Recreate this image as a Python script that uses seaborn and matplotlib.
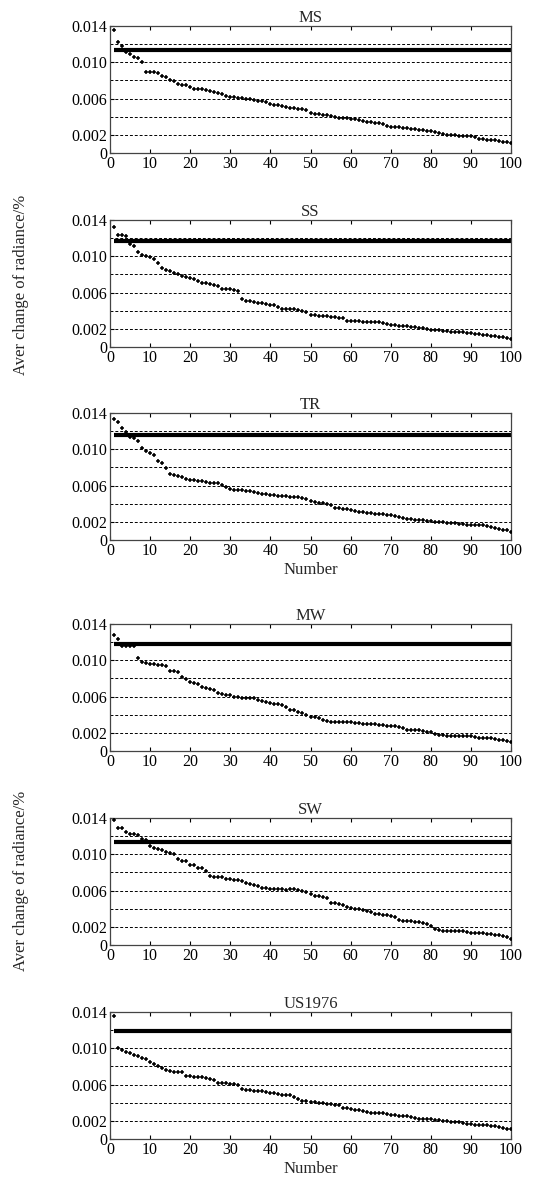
import numpy as np
import pandas as pd
import matplotlib
matplotlib.use("Agg")
import matplotlib.pyplot as plt
import seaborn as sns

number = list(range(1, 101))

ms = [0.01356, 0.01229, 0.01181, 0.01112, 0.01094, 0.01057, 0.01046, 0.00999, 0.00890, 0.00890,
      0.00890, 0.00882, 0.00853, 0.00835, 0.00809, 0.00791, 0.00766, 0.00755, 0.00747, 0.00729,
      0.00711, 0.00707, 0.00700, 0.00689, 0.00682, 0.00675, 0.00656, 0.00649, 0.00627, 0.00620,
      0.00613, 0.00609, 0.00605, 0.00598, 0.00591, 0.00580, 0.00572, 0.00569, 0.00561, 0.00540,
      0.00532, 0.00525, 0.00518, 0.00510, 0.00496, 0.00492, 0.00485, 0.00481, 0.00478, 0.00438,
      0.00430, 0.00427, 0.00423, 0.00416, 0.00405, 0.00397, 0.00390, 0.00387, 0.00383, 0.00379,
      0.00376, 0.00368, 0.00357, 0.00343, 0.00339, 0.00335, 0.00332, 0.00317, 0.00295, 0.00292,
      0.00288, 0.00284, 0.00281, 0.00277, 0.00270, 0.00263, 0.00259, 0.00252, 0.00244, 0.00241,
      0.00237, 0.00222, 0.00204, 0.00197, 0.00193, 0.00193, 0.00190, 0.00190, 0.00190, 0.00186,
      0.00175, 0.00157, 0.00149, 0.00146, 0.00142, 0.00139, 0.00135, 0.00124, 0.00117, 0.00113]

ss = [0.01323, 0.01238, 0.01230, 0.01223, 0.01138, 0.01109, 0.01046, 0.01009, 0.00998, 0.00991,
      0.00973, 0.00925, 0.00869, 0.00844, 0.00840, 0.00818, 0.00803, 0.00781, 0.00770, 0.00766,
      0.00752, 0.00733, 0.00704, 0.00700, 0.00693, 0.00678, 0.00667, 0.00641, 0.00634, 0.00634,
      0.00630, 0.00612, 0.00527, 0.00508, 0.00505, 0.00494, 0.00486, 0.00483, 0.00475, 0.00468,
      0.00461, 0.00446, 0.00424, 0.00420, 0.00416, 0.00416, 0.00413, 0.00398, 0.00383, 0.00357,
      0.00354, 0.00346, 0.00343, 0.00339, 0.00335, 0.00332, 0.00324, 0.00321, 0.00291, 0.00287,
      0.00284, 0.00284, 0.00280, 0.00280, 0.00276, 0.00276, 0.00273, 0.00265, 0.00251, 0.00247,
      0.00240, 0.00236, 0.00232, 0.00228, 0.00225, 0.00221, 0.00214, 0.00206, 0.00199, 0.00192,
      0.00188, 0.00184, 0.00181, 0.00173, 0.00169, 0.00166, 0.00162, 0.00162, 0.00158, 0.00155,
      0.00147, 0.00140, 0.00133, 0.00129, 0.00125, 0.00118, 0.00114, 0.00111, 0.00096, 0.00088]

tr = [0.01330, 0.01305, 0.01239, 0.01188, 0.01140, 0.01122, 0.01093, 0.01012, 0.00976, 0.00958,
      0.00932, 0.00874, 0.00848, 0.00793, 0.00731, 0.00713, 0.00702, 0.00691, 0.00676, 0.00665,
      0.00662, 0.00654, 0.00651, 0.00640, 0.00629, 0.00625, 0.00625, 0.00610, 0.00588, 0.00567,
      0.00556, 0.00552, 0.00548, 0.00545, 0.00537, 0.00530, 0.00519, 0.00508, 0.00504, 0.00501,
      0.00497, 0.00490, 0.00486, 0.00482, 0.00479, 0.00475, 0.00472, 0.00464, 0.00457, 0.00435,
      0.00417, 0.00409, 0.00406, 0.00402, 0.00384, 0.00355, 0.00351, 0.00347, 0.00347, 0.00333,
      0.00318, 0.00311, 0.00307, 0.00296, 0.00296, 0.00292, 0.00292, 0.00289, 0.00281, 0.00274,
      0.00260, 0.00249, 0.00245, 0.00234, 0.00227, 0.00223, 0.00219, 0.00216, 0.00208, 0.00205,
      0.00201, 0.00201, 0.00197, 0.00190, 0.00186, 0.00183, 0.00179, 0.00172, 0.00168, 0.00164,
      0.00161, 0.00161, 0.00161, 0.00154, 0.00139, 0.00128, 0.00117, 0.00110, 0.00106, 0.00088]

mw = [0.01282, 0.01234, 0.01160, 0.01160, 0.01160, 0.01153, 0.01020, 0.00986, 0.00972, 0.00960,
      0.00957, 0.00953, 0.00949, 0.00938, 0.00883, 0.00879, 0.00872, 0.00820, 0.00791, 0.00761,
      0.00746, 0.00739, 0.00709, 0.00698, 0.00687, 0.00676, 0.00643, 0.00628, 0.00621, 0.00621,
      0.00598, 0.00591, 0.00587, 0.00587, 0.00584, 0.00580, 0.00558, 0.00550, 0.00543, 0.00528,
      0.00521, 0.00513, 0.00502, 0.00488, 0.00451, 0.00451, 0.00429, 0.00414, 0.00392, 0.00377,
      0.00373, 0.00369, 0.00347, 0.00329, 0.00325, 0.00325, 0.00321, 0.00321, 0.00318, 0.00318,
      0.00310, 0.00307, 0.00303, 0.00303, 0.00299, 0.00296, 0.00288, 0.00284, 0.00281, 0.00277,
      0.00273, 0.00270, 0.00255, 0.00236, 0.00233, 0.00233, 0.00229, 0.00225, 0.00207, 0.00207,
      0.00192, 0.00177, 0.00174, 0.00170, 0.00170, 0.00166, 0.00166, 0.00166, 0.00163, 0.00163,
      0.00151, 0.00148, 0.00144, 0.00144, 0.00140, 0.00133, 0.00126, 0.00118, 0.00111, 0.00103]

sw = [0.01376, 0.01288, 0.01288, 0.01248, 0.01219, 0.01219, 0.01208, 0.01171, 0.01153, 0.01087,
      0.01072, 0.01054, 0.01047, 0.01028, 0.01017, 0.00999, 0.00948, 0.00926, 0.00922, 0.00882,
      0.00878, 0.00853, 0.00849, 0.00816, 0.00761, 0.00747, 0.00747, 0.00747, 0.00728, 0.00725,
      0.00721, 0.00714, 0.00706, 0.00681, 0.00670, 0.00659, 0.00648, 0.00633, 0.00626, 0.00622,
      0.00619, 0.00619, 0.00615, 0.00608, 0.00619, 0.00615, 0.00611, 0.00597, 0.00586, 0.00560,
      0.00542, 0.00538, 0.00531, 0.00516, 0.00468, 0.00458, 0.00450, 0.00443, 0.00421, 0.00403,
      0.00399, 0.00395, 0.00388, 0.00377, 0.00359, 0.00340, 0.00337, 0.00333, 0.00329, 0.00322,
      0.00304, 0.00275, 0.00267, 0.00264, 0.00260, 0.00256, 0.00249, 0.00238, 0.00231, 0.00212,
      0.00176, 0.00161, 0.00157, 0.00157, 0.00154, 0.00154, 0.00150, 0.00150, 0.00139, 0.00135,
      0.00135, 0.00132, 0.00128, 0.00121, 0.00117, 0.00113, 0.00106, 0.00099, 0.00092, 0.00062]

us1976 = [0.01361, 0.01006, 0.00981, 0.00963, 0.00952, 0.00927, 0.00919, 0.00898, 0.00880, 0.00854,
          0.00829, 0.00807, 0.00782, 0.00764, 0.00746, 0.00735, 0.00735, 0.00735, 0.00691, 0.00691,
          0.00684, 0.00684, 0.00681, 0.00673, 0.00666, 0.00655, 0.00619, 0.00612, 0.00612, 0.00605,
          0.00601, 0.00590, 0.00547, 0.00543, 0.00539, 0.00532, 0.00529, 0.00525, 0.00518, 0.00510,
          0.00503, 0.00492, 0.00485, 0.00481, 0.00481, 0.00467, 0.00438, 0.00424, 0.00416, 0.00413,
          0.00409, 0.00402, 0.00395, 0.00391, 0.00387, 0.00380, 0.00376, 0.00344, 0.00337, 0.00329,
          0.00322, 0.00315, 0.00311, 0.00300, 0.00290, 0.00286, 0.00286, 0.00286, 0.00272, 0.00264,
          0.00261, 0.00257, 0.00253, 0.00250, 0.00239, 0.00228, 0.00221, 0.00217, 0.00217, 0.00217,
          0.00214, 0.00206, 0.00203, 0.00199, 0.00188, 0.00185, 0.00185, 0.00177, 0.00170, 0.00163,
          0.00159, 0.00156, 0.00156, 0.00152, 0.00148, 0.00141, 0.00130, 0.00119, 0.00109, 0.00105]

titles = ["MS", "SS", "TR", "MW", "SW", "US1976"]
series = [ms, ss, tr, mw, sw, us1976]
thresholds = [0.0113, 0.0117, 0.0116, 0.0118, 0.0114, 0.0119]

grid_levels = [0.002, 0.004, 0.006, 0.008, 0.010, 0.012]
ytick_vals = [0, 0.002, 0.006, 0.010, 0.014]
ytick_labels = ["0", "0.002", "0.006", "0.010", "0.014"]
xtick_vals = [0, 10, 20, 30, 40, 50, 60, 70, 80, 90, 100]

sns.set_theme(style="white")
plt.rcParams["font.family"] = ["Liberation Serif", "DejaVu Serif"]

W, H = 533, 1187
fig = plt.figure(figsize=(W / 100, H / 100), dpi=100)

tops = [26, 220, 413, 624, 818, 1012]
ax_h = 127
left, ax_w = 110, 401

for i, (title, vals, thr, top) in enumerate(zip(titles, series, thresholds, tops)):
    ax = fig.add_axes([left / W, 1 - (top + ax_h) / H, ax_w / W, ax_h / H])
    df = pd.DataFrame({"Number": number, "value": vals})
    for g in grid_levels:
        ax.axhline(g, color="black", lw=0.7, ls=(0, (3, 2)), zorder=1)
    ax.hlines(thr, number[0], number[-1], color="black", lw=3.0, zorder=2)
    sns.scatterplot(data=df, x="Number", y="value", ax=ax, marker="+", s=9,
                    color="black", linewidth=1.1, zorder=3, legend=False)
    ax.set_xlim(0, 100)
    ax.set_ylim(0, 0.014)
    ax.set_xticks(xtick_vals)
    ax.set_xticklabels([str(v) for v in xtick_vals], fontsize=11.5)
    ax.set_yticks(ytick_vals)
    ax.set_yticklabels(ytick_labels, fontsize=11.5)
    ax.tick_params(axis="x", direction="in", length=3, width=0.8, top=True, bottom=True,
                   pad=2, colors="black")
    ax.tick_params(axis="y", direction="in", length=3, width=0.8, left=True, right=False,
                   pad=2, colors="black")
    for sp in ax.spines.values():
        sp.set_color("#444444")
        sp.set_linewidth(0.9)
    ax.set_title(title, fontsize=12, pad=3)
    ax.set_ylabel("")
    if i in (2, 5):
        ax.set_xlabel("Number", fontsize=12, labelpad=2)
    else:
        ax.set_xlabel("")

fig.text(0.04, 1 - 285 / H, "Aver change of radiance/%", rotation=90,
         ha="center", va="center", fontsize=12)
fig.text(0.04, 1 - 881 / H, "Aver change of radiance/%", rotation=90,
         ha="center", va="center", fontsize=12)

fig.savefig("out.png", dpi=100)
